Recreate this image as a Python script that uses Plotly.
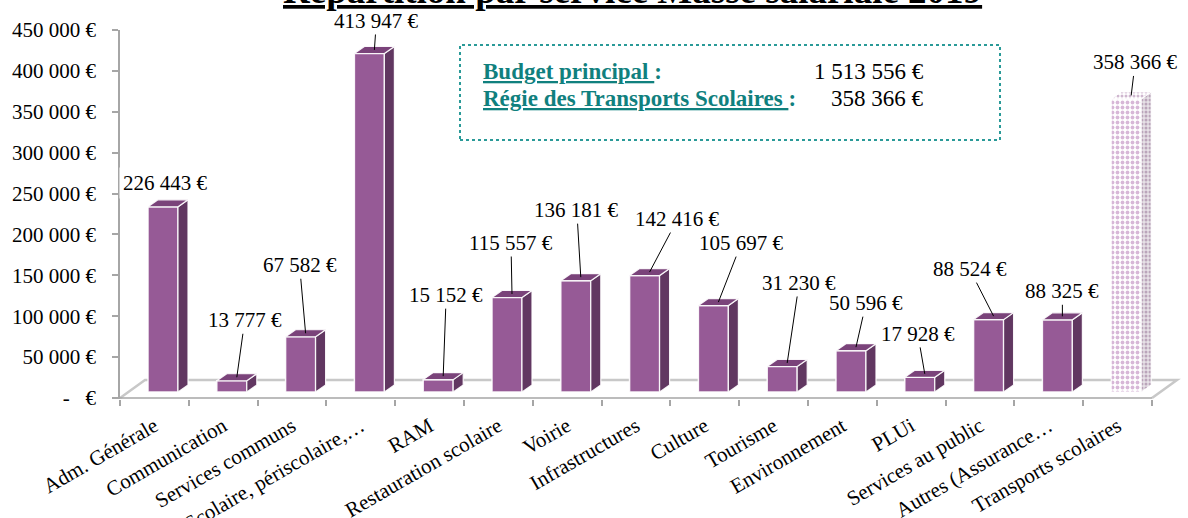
import plotly.graph_objects as go

# ---------------- data ----------------
categories = ["Adm. Générale", "Communication", "Services communs", "Scolaire, périscolaire,…",
              "RAM", "Restauration scolaire", "Voirie", "Infrastructures", "Culture", "Tourisme",
              "Environnement", "PLUi", "Services au public", "Autres (Assurance…",
              "Transports scolaires"]
values = [226443, 13777, 67582, 413947, 15152, 115557, 136181, 142416, 105697, 31230,
          50596, 17928, 88524, 88325, 358366]
is_regie = [False] * 14 + [True]

y_tickvals = [0, 50000, 100000, 150000, 200000, 250000, 300000, 350000, 400000, 450000]
y_ticktext = ["-   €", "50 000 €", "100 000 €", "150 000 €", "200 000 €", "250 000 €",
              "300 000 €", "350 000 €", "400 000 €", "450 000 €"]

title_text = "Répartition par service Masse salariale 2019"
budget_labels = ["Budget principal", "Régie des Transports Scolaires"]
budget_values = ["1 513 556 €", "358 366 €"]

# ---------------- style / geometry ----------------
FONT = "Liberation Serif"
W, H = 1188, 518
ML, MR, MT, MB = 120, 3, 30, 119
X_RANGE = [-0.5, 14.98]
Y_RANGE = [-1200, 450000]
PLOT_W = W - ML - MR
PLOT_H = H - MT - MB
PX_X = PLOT_W / (X_RANGE[1] - X_RANGE[0])      # px per category
PX_Y = PLOT_H / (Y_RANGE[1] - Y_RANGE[0])      # px per value unit

def px2x(p):
    return p / PX_X

def px2y(p):
    return p / PX_Y

def paper_x(px):
    return (px - ML) / PLOT_W

def paper_y(py):
    return (H - MB - py) / PLOT_H

OFF = px2x(8.6)        # front face shift
BW = px2x(30)          # bar width
DDX = px2x(10)         # depth x
DDY = px2y(7)          # depth y
B0 = px2y(6)           # base lift of front face
FDX = px2x(25)         # floor depth
FDY = px2y(18)

FRONT = "#965A96"
TOP = "#7A437A"
SIDE = "#613761"
EDGE = "rgba(255,255,255,0.9)"
GREY_AX = "#A6A6A6"
FLOOR = "#C8C8C8"
TEAL = "#10807E"
LBL_SIZE = 21

# label offsets (px) of each data label relative to the top face centre, and leader flag
label_dx = [-3, 8, -6, 2, 3, -1, -4, 28, 23, 12, 10, -7, -24, 0, 4]
label_dy = [-20, -57, -68, -29, -81, -51, -67, -53, -59, -80, -44, -40, -47, -25, -33]
leader = [False] + [True] * 14

fig = go.Figure()

n = len(categories)
xs = list(range(n))

# front faces
for flag in (False, True):
    idx = [i for i in range(n) if is_regie[i] == flag]
    if not idx:
        continue
    if flag:
        marker = dict(color="white", line=dict(color="white", width=1),
                      pattern=dict(shape=".", fgcolor="#B070B0", bgcolor="white", size=5, solidity=0.45))
    else:
        marker = dict(color=FRONT, line=dict(color=EDGE, width=1.5))
    fig.add_trace(go.Bar(
        x=[xs[i] + OFF for i in idx],
        y=[values[i] for i in idx],
        base=[B0] * len(idx),
        width=BW,
        marker=marker,
        hoverinfo="skip",
        showlegend=False,
    ))

# side and top faces
def faces(i):
    xl = xs[i] + OFF - BW / 2
    xr = xs[i] + OFF + BW / 2
    top = values[i] + B0
    side = ([xr, xr + DDX, xr + DDX, xr, xr], [B0, B0 + DDY, top + DDY, top, B0])
    topf = ([xl, xl + DDX, xr + DDX, xr, xl], [top, top + DDY, top + DDY, top, top])
    return side, topf

for flag in (False, True):
    sx, sy, tx, ty = [], [], [], []
    for i in range(n):
        if is_regie[i] != flag:
            continue
        (a, b), (c, d) = faces(i)
        sx += a + [None]; sy += b + [None]
        tx += c + [None]; ty += d + [None]
    if not sx:
        continue
    if flag:
        fig.add_trace(go.Scatter(x=sx, y=sy, mode="lines", fill="toself", fillcolor="white",
                                 fillpattern=dict(shape=".", fgcolor="#8E6A8E", bgcolor="#E6E0E6", size=4, solidity=0.45),
                                 line=dict(color="white", width=1), hoverinfo="skip", showlegend=False))
        fig.add_trace(go.Scatter(x=tx, y=ty, mode="lines", fill="toself", fillcolor="white",
                                 fillpattern=dict(shape=".", fgcolor="#A070A0", bgcolor="white", size=4, solidity=0.45),
                                 line=dict(color="white", width=1), hoverinfo="skip", showlegend=False))
    else:
        fig.add_trace(go.Scatter(x=sx, y=sy, mode="lines", fill="toself", fillcolor=SIDE,
                                 line=dict(color=EDGE, width=1.2), hoverinfo="skip", showlegend=False))
        fig.add_trace(go.Scatter(x=tx, y=ty, mode="lines", fill="toself", fillcolor=TOP,
                                 line=dict(color=EDGE, width=1.2), hoverinfo="skip", showlegend=False))

# floor (3D base) as shapes below traces
x0f, x1f = X_RANGE[0], n - 0.5
fig.add_shape(type="path", xref="x", yref="y", layer="below",
              path=f"M {x0f} 0 L {x0f + FDX} {FDY} L {x1f + FDX} {FDY} L {x1f} 0",
              line=dict(color=FLOOR, width=2.5))
fig.add_shape(type="line", xref="x", yref="y", layer="below",
              x0=x0f, x1=x1f, y0=0, y1=0, line=dict(color=GREY_AX, width=1.5))

# data labels
annotations = []
for i in range(n):
    xa = xs[i] + OFF + DDX / 2
    ya = values[i] + B0 + DDY / 2
    txt = f"{values[i]:,}".replace(",", " ") + " €"
    if leader[i]:
        annotations.append(dict(x=xa, y=ya, xref="x", yref="y", text=txt, showarrow=True,
                                arrowhead=0, arrowwidth=1, arrowcolor="black", standoff=0,
                                ax=label_dx[i], ay=label_dy[i],
                                font=dict(family=FONT, size=LBL_SIZE, color="black")))
    else:
        annotations.append(dict(x=xa, y=ya, xref="x", yref="y", text=txt, showarrow=False,
                                xshift=label_dx[i], yshift=-label_dy[i], bgcolor="white", borderpad=3,
                                font=dict(family=FONT, size=LBL_SIZE, color="black")))

# title (cut at the top of the picture)
annotations.append(dict(x=paper_x(632), y=paper_y(13), xref="paper", yref="paper",
                        xanchor="center", yanchor="bottom", showarrow=False,
                        text=f"<b><u>{title_text}</u></b>",
                        font=dict(family=FONT, size=37, color="black")))

# budget box
for k, (lab, val) in enumerate(zip(budget_labels, budget_values)):
    yy = paper_y(72 + 26 * k)
    annotations.append(dict(x=paper_x(481), y=yy, xref="paper", yref="paper", xanchor="left",
                            yanchor="middle", showarrow=False,
                            text=f"<b><u>{lab} </u>:</b>",
                            font=dict(family=FONT, size=23, color=TEAL)))
    annotations.append(dict(x=paper_x(926), y=yy, xref="paper", yref="paper", xanchor="right",
                            yanchor="middle", showarrow=False, text=val,
                            font=dict(family=FONT, size=23, color="black")))

fig.add_shape(type="rect", xref="paper", yref="paper",
              x0=paper_x(460), x1=paper_x(1000), y0=paper_y(140), y1=paper_y(45),
              line=dict(color="#2A9A98", width=2, dash="dot"), fillcolor="rgba(0,0,0,0)")

fig.update_layout(
    width=W, height=H,
    margin=dict(l=ML, r=MR, t=MT, b=MB, pad=0, autoexpand=False),
    plot_bgcolor="white", paper_bgcolor="white",
    barmode="overlay",
    showlegend=False,
    annotations=annotations,
    font=dict(family=FONT, size=LBL_SIZE, color="black"),
    xaxis=dict(range=X_RANGE, showgrid=False, zeroline=False, showline=False, automargin=False,
               tickmode="array", tickvals=xs, ticktext=categories, ticks="",
               tickangle=-30, tickfont=dict(family=FONT, size=LBL_SIZE, color="black"),
               ticklabelstandoff=10,
               minor=dict(tickmode="array", tickvals=[i - 0.5 for i in range(n + 1)],
                          ticks="outside", ticklen=6, tickcolor=GREY_AX, tickwidth=1.5, showgrid=False)),
    yaxis=dict(range=Y_RANGE, showgrid=False, zeroline=False, showline=True, automargin=False,
               linecolor=GREY_AX, linewidth=1.5, ticks="outside", ticklen=6, tickcolor=GREY_AX,
               tickwidth=1.5, tickmode="array", tickvals=y_tickvals, ticktext=y_ticktext,
               tickfont=dict(family=FONT, size=LBL_SIZE, color="black"), ticklabelstandoff=12),
)

fig.write_html("out.html", config={"displayModeBar": False},
               post_script="document.body.style.margin='0';document.body.style.overflow='hidden';")
